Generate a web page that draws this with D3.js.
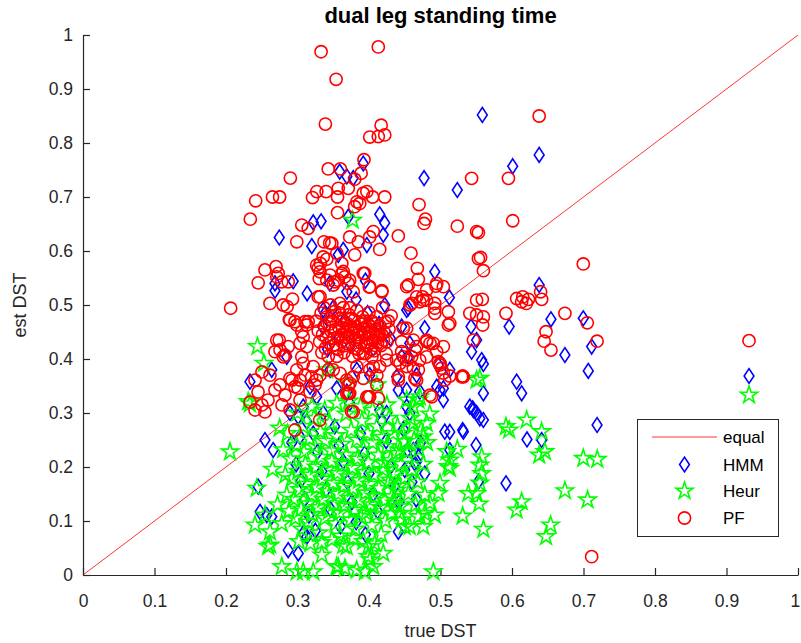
<!DOCTYPE html>
<html><head><meta charset="utf-8">
<script src="https://cdn.jsdelivr.net/npm/d3@7"></script>
<style>body{margin:0;background:#fff}svg{display:block}text{font-family:Arial,"Liberation Sans",sans-serif}</style>
</head><body><svg id="c" width="801" height="643"></svg>
<script>
const title = "dual leg standing time";
const xLabel = "true DST", yLabel = "est DST";
const xTicks = [0,0.1,0.2,0.3,0.4,0.5,0.6,0.7,0.8,0.9,1];
const yTicks = [0,0.1,0.2,0.3,0.4,0.5,0.6,0.7,0.8,0.9,1];
const legendNames = ["equal","HMM","Heur","PF"];
const equalLine = [[0,0],[1,1]];

const hmm = [
[0.392,0.762],[0.359,0.747],[0.369,0.738],[0.378,0.735],[0.477,0.735],[0.322,0.653],[0.333,0.655],[0.415,0.668],[0.422,0.652],[0.42,0.63],
[0.2745,0.625],[0.320,0.609],[0.364,0.602],[0.294,0.544],[0.2685,0.5265],[0.3135,0.5215],[0.3385,0.4845],[0.285,0.404],[0.264,0.380],[0.2335,0.358],
[0.397,0.611],[0.357,0.593],[0.492,0.5615],[0.5124,0.514],[0.455,0.494],[0.478,0.457],[0.457,0.429],[0.4457,0.404],[0.455,0.404],[0.5435,0.4135],
[0.5505,0.435],[0.497,0.389],[0.513,0.380],[0.4666,0.370],[0.441,0.3425],[0.4993,0.3425],[0.371,0.6635],
[0.5585,0.852],[0.638,0.778],[0.601,0.757],[0.5235,0.713],[0.638,0.537],
[0.5427,0.46],[0.596,0.46],[0.6545,0.4735],[0.6997,0.4755],[0.7114,0.423],[0.5576,0.398],[0.560,0.3907],[0.674,0.4074],[0.7067,0.378],
[0.6065,0.358],[0.6135,0.3365],[0.560,0.3365],[0.545,0.3087],[0.555,0.290],[0.531,0.2685],[0.5497,0.2407],[0.621,0.251],[0.6415,0.25],
[0.719,0.2778],[0.5916,0.1698],[0.553,0.1728],[0.513,0.265],[0.513,0.2315],[0.9315,0.3685],
[0.2545,0.25],[0.245,0.1635],[0.257,0.111],[0.264,0.108],[0.287,0.046],[0.301,0.040],[0.313,0.071],
[0.546,0.3055],[0.532,0.2654],[0.506,0.2654],[0.450,0.1944],[0.4666,0.21],[0.441,0.080],[0.504,0.3457],[0.4527,0.3117],[0.457,0.30],[0.462,0.2315],[0.469,0.219],
[0.266,0.2315],[0.2476,0.117],[0.308,0.077],[0.5505,0.30],[0.560,0.287],[0.464,0.207],
[0.2685,0.540],[0.369,0.5245],[0.336,0.4907],[0.4527,0.4907],[0.4457,0.46],[0.3455,0.380],[0.383,0.380],[0.401,0.370],[0.4387,0.367],
[0.4527,0.3425],[0.471,0.3395],[0.4947,0.3487],[0.504,0.324],[0.541,0.3117],[0.3175,0.3487],[0.3268,0.330],[0.3548,0.3457],[0.369,0.3395],
[0.373,0.318],[0.308,0.3117],[0.301,0.293],[0.415,0.3055],[0.4247,0.30],[0.336,0.30],[0.2895,0.30],[0.313,0.284],[0.3035,0.256],
[0.292,0.245],[0.298,0.205],[0.305,0.175],[0.310,0.140],[0.316,0.110],[0.322,0.262],[0.328,0.228],[0.334,0.192],[0.340,0.158],[0.346,0.122],
[0.352,0.275],[0.358,0.240],[0.364,0.210],[0.370,0.172],[0.376,0.135],[0.382,0.098],[0.388,0.262],[0.394,0.225],[0.400,0.188],[0.406,0.150],
[0.412,0.118],[0.418,0.285],[0.424,0.248],[0.430,0.200],[0.436,0.165],[0.442,0.135],[0.448,0.270],[0.454,0.232],[0.460,0.172],[0.466,0.140],
[0.472,0.245],[0.478,0.188],[0.325,0.082],[0.360,0.090],[0.395,0.075],
[0.335,0.460],[0.342,0.418],[0.350,0.495],[0.358,0.440],[0.366,0.472],[0.374,0.425],[0.382,0.510],[0.390,0.448],[0.398,0.485],[0.406,0.420],
[0.414,0.465],[0.422,0.500],[0.430,0.438],[0.345,0.540],[0.395,0.545]
];

const heur = [
[0.377,0.657],[0.244,0.423],[0.253,0.392],[0.2335,0.317],[0.2056,0.228],[0.231,0.321],[0.265,0.1957],[0.243,0.1605],[0.2406,0.0926],[0.259,0.0525],
[0.278,0.0154],[0.299,0.006],[0.308,0.006],[0.322,0.006],[0.334,0.037],[0.411,0.352],[0.5505,0.361],
[0.555,0.364],[0.5916,0.2747],[0.596,0.2685],[0.6205,0.287],[0.6415,0.2654],[0.638,0.222],[0.646,0.2284],[0.6997,0.216],[0.7193,0.214],
[0.5235,0.2327],[0.513,0.213],[0.513,0.1975],[0.5576,0.219],[0.555,0.2037],[0.5576,0.188],[0.555,0.170],[0.5505,0.151],[0.539,0.151],[0.554,0.1315],
[0.531,0.109],[0.560,0.0846],[0.674,0.156],[0.7057,0.139],[0.6065,0.120],[0.6135,0.1357],[0.654,0.0926],[0.6476,0.071],[0.9315,0.3333],
[0.5086,0.2284],[0.511,0.2006],[0.4993,0.1698],[0.497,0.151],[0.4853,0.133],[0.492,0.111],[0.478,0.114],[0.469,0.108],[0.476,0.0895],
[0.4434,0.1265],[0.4457,0.102],[0.457,0.0895],[0.3688,0.0525],[0.399,0.0525],[0.420,0.040],[0.4014,0.028],[0.3548,0.0154],[0.3664,0.0124],
[0.3828,0.009],[0.3944,0.006],[0.406,0.0154],[0.490,0.006],[0.4527,0.324],[0.462,0.3117],[0.471,0.330],[0.4806,0.281],[0.476,0.256],[0.462,0.281],
[0.4434,0.2315],[0.450,0.247],[0.42,0.207],[0.429,0.176],[0.4387,0.157],[0.436,0.133],[0.4317,0.114],[0.4434,0.114],[0.450,0.0895],
[0.357,0.015],[0.2615,0.0556],[0.399,0.034],[0.2545,0.111],[0.2615,0.080],[0.341,0.38],[0.369,0.355],[0.469,0.324],
[0.286,0.262],[0.290,0.215],[0.292,0.178],[0.295,0.140],[0.297,0.105],[0.299,0.240],[0.301,0.192],[0.303,0.158],[0.305,0.122],[0.306,0.085],
[0.308,0.275],[0.309,0.228],[0.311,0.205],[0.312,0.168],[0.314,0.132],[0.315,0.098],[0.317,0.252],[0.318,0.185],[0.320,0.148],[0.321,0.112],
[0.323,0.290],[0.324,0.238],[0.326,0.200],[0.327,0.162],[0.329,0.125],[0.330,0.078],[0.332,0.265],[0.333,0.218],[0.335,0.178],[0.336,0.140],
[0.338,0.105],[0.339,0.248],[0.341,0.195],[0.342,0.155],[0.344,0.118],[0.345,0.282],[0.347,0.230],[0.348,0.210],[0.350,0.170],[0.351,0.132],
[0.353,0.095],[0.354,0.258],[0.356,0.188],[0.357,0.150],[0.359,0.115],[0.360,0.072],[0.362,0.242],[0.363,0.205],[0.365,0.165],[0.366,0.128],
[0.368,0.298],[0.369,0.222],[0.371,0.182],[0.372,0.142],[0.374,0.102],[0.375,0.268],[0.377,0.198],[0.378,0.160],[0.380,0.120],[0.381,0.085],
[0.383,0.250],[0.384,0.215],[0.386,0.175],[0.387,0.138],[0.389,0.108],[0.390,0.285],[0.392,0.232],[0.393,0.190],[0.395,0.152],[0.396,0.115],
[0.398,0.262],[0.399,0.208],[0.401,0.168],[0.402,0.130],[0.404,0.092],[0.405,0.245],[0.407,0.185],[0.408,0.145],[0.410,0.112],[0.411,0.275],
[0.413,0.222],[0.414,0.160],[0.416,0.125],[0.417,0.075],[0.419,0.255],[0.420,0.195],[0.422,0.138],[0.423,0.100],[0.425,0.238],[0.427,0.170],
[0.428,0.290],[0.430,0.212],[0.432,0.145],[0.434,0.262],[0.436,0.188],[0.438,0.225],[0.440,0.275],[0.442,0.165],[0.445,0.205],[0.447,0.262],
[0.450,0.180],[0.453,0.228],[0.455,0.150],[0.458,0.290],[0.460,0.195],[0.463,0.250],[0.465,0.130],[0.468,0.172],[0.470,0.232],[0.473,0.268],
[0.476,0.205],[0.478,0.148],[0.481,0.245],[0.485,0.298],[0.302,0.062],[0.318,0.058],[0.334,0.060],[0.348,0.065],[0.364,0.055],[0.378,0.068],
[0.392,0.062],[0.408,0.058],[0.280,0.232],[0.283,0.185],[0.285,0.148],[0.288,0.118],[0.275,0.272],[0.272,0.130],[0.278,0.095],[0.300,0.300],
[0.320,0.312],[0.338,0.305],[0.355,0.318],[0.372,0.322],[0.388,0.312],[0.405,0.305],[0.425,0.315]
];

const pf = [
[0.333,0.969],[0.413,0.978],[0.354,0.918],[0.339,0.835],[0.417,0.833],[0.401,0.811],[0.413,0.812],[0.422,0.815],[0.393,0.769],[0.343,0.752],
[0.360,0.752],[0.389,0.744],[0.290,0.735],[0.380,0.733],[0.2415,0.693],[0.265,0.70],[0.275,0.70],[0.321,0.699],[0.327,0.710],[0.340,0.710],
[0.356,0.70],[0.357,0.716],[0.371,0.716],[0.383,0.691],[0.392,0.707],[0.397,0.710],[0.405,0.70],[0.422,0.70],[0.38,0.682],[0.387,0.688],
[0.356,0.671],[0.470,0.686],[0.234,0.659],[0.479,0.659],
[0.306,0.648],[0.315,0.642],[0.299,0.617],[0.337,0.617],[0.345,0.615],[0.336,0.589],[0.341,0.585],[0.332,0.577],[0.329,0.568],[0.355,0.596],
[0.362,0.577],[0.364,0.562],[0.2545,0.565],[0.270,0.571],[0.271,0.552],[0.278,0.543],[0.287,0.543],[0.245,0.541],[0.3305,0.549],[0.341,0.546],
[0.350,0.537],[0.357,0.546],[0.366,0.552],[0.329,0.515],[0.2615,0.503],[0.280,0.50],[0.2855,0.497],[0.293,0.511],[0.2065,0.494],[0.2885,0.473],
[0.299,0.463],[0.3105,0.469],[0.315,0.469],[0.306,0.4505],[0.2745,0.435],[0.2685,0.4135],[0.2825,0.407],[0.308,0.441],[0.313,0.423],
[0.477,0.651],[0.5235,0.646],[0.5505,0.636],[0.373,0.626],[0.385,0.617],[0.401,0.626],[0.406,0.636],[0.415,0.603],[0.441,0.628],[0.348,0.614],
[0.380,0.593],[0.4587,0.596],[0.4676,0.568],[0.553,0.586],[0.392,0.5585],[0.371,0.540],[0.3525,0.543],[0.4527,0.534],[0.469,0.5475],[0.4937,0.535],
[0.504,0.534],[0.4005,0.533],[0.418,0.5265],[0.475,0.515],[0.4806,0.509],[0.471,0.506],[0.4597,0.503],[0.492,0.503],[0.511,0.4875],[0.492,0.4845],
[0.511,0.463],[0.5505,0.509],[0.541,0.4845],[0.5505,0.4815],[0.546,0.435],[0.4527,0.457],[0.4457,0.432],[0.4457,0.4135],[0.4643,0.4165],[0.4597,0.404],
[0.4527,0.398],[0.4434,0.392],[0.4806,0.435],[0.4853,0.429],[0.504,0.423],[0.471,0.398],[0.462,0.383],[0.4993,0.392],[0.5015,0.383],[0.532,0.367],
[0.441,0.367],[0.406,0.386],[0.404,0.404],[0.392,0.4105],[0.4247,0.398],[0.4853,0.333],[0.371,0.352],[0.371,0.3365],[0.397,0.330],[0.411,0.352],
[0.638,0.850],[0.5435,0.7345],[0.595,0.7345],[0.553,0.634],[0.601,0.656],[0.556,0.588],[0.560,0.5635],[0.6997,0.576],[0.6065,0.512],[0.615,0.515],
[0.623,0.5105],[0.640,0.5245],[0.6415,0.5105],[0.5585,0.5105],[0.560,0.478],[0.559,0.463],[0.5916,0.4845],[0.6135,0.506],[0.620,0.503],[0.674,0.4845],
[0.7053,0.467],[0.6476,0.4505],[0.645,0.433],[0.6545,0.4165],[0.719,0.433],[0.531,0.3685],[0.513,0.3685],[0.7114,0.034],[0.9315,0.434],
[0.331,0.287],[0.2965,0.2685],[0.399,0.330],[0.413,0.327],[0.3757,0.3025],[0.3688,0.3365],[0.3734,0.355],[0.441,0.361],[0.4666,0.361],[0.506,0.361],
[0.273,0.5585],[0.3268,0.574],[0.3315,0.5615],[0.3455,0.5555],[0.362,0.5585],[0.373,0.546],[0.394,0.5585],[0.401,0.534],[0.418,0.5245],[0.378,0.5245],
[0.3594,0.503],[0.3315,0.5155],[0.455,0.537],[0.4666,0.515],[0.476,0.509],[0.4806,0.528],[0.4947,0.540],[0.492,0.494],[0.513,0.466],[0.4573,0.50],
[0.448,0.457],[0.462,0.435],[0.4666,0.423],[0.4806,0.432],[0.490,0.429],[0.4947,0.4135],[0.497,0.395],[0.4806,0.404],[0.448,0.404],[0.4387,0.398],
[0.4527,0.386],[0.469,0.380],[0.4643,0.3643],[0.504,0.374],[0.271,0.435],[0.2755,0.4167],[0.280,0.404],[0.287,0.423],[0.3035,0.429],[0.306,0.404],
[0.2965,0.469],[0.2895,0.472],[0.313,0.463],[0.308,0.392],[0.322,0.386],[0.299,0.380],[0.3035,0.361],[0.3198,0.367],[0.3315,0.370],[0.3268,0.361],
[0.2895,0.3643],[0.2965,0.3487],[0.3688,0.361],[0.378,0.367],[0.392,0.3643],[0.401,0.380],[0.411,0.370],[0.415,0.386],[0.383,0.386],[0.350,0.380],
[0.3594,0.3735],[0.343,0.380],[0.373,0.3365],[0.401,0.330],[0.378,0.3025],[0.4993,0.389],[0.4877,0.330],[0.5296,0.367],
[0.2406,0.361],[0.2448,0.339],[0.2503,0.315],[0.2587,0.324],[0.2685,0.3426],[0.2755,0.352],[0.2825,0.3333],[0.2923,0.361],[0.3007,0.3463],[0.3035,0.324],
[0.3105,0.370],[0.3175,0.339],[0.3245,0.352],[0.2615,0.370],[0.2783,0.315],[0.2503,0.376],[0.2895,0.3056],[0.2336,0.320],[0.2406,0.3056],[0.2545,0.302],
[0.335,0.445],[0.338,0.462],[0.341,0.478],[0.344,0.430],[0.347,0.452],[0.349,0.470],[0.352,0.488],[0.354,0.420],[0.356,0.440],[0.358,0.458],
[0.360,0.475],[0.362,0.432],[0.364,0.495],[0.365,0.412],[0.367,0.450],[0.369,0.466],[0.371,0.428],[0.372,0.482],[0.374,0.442],[0.376,0.458],
[0.377,0.405],[0.379,0.472],[0.381,0.436],[0.383,0.490],[0.384,0.418],[0.386,0.452],[0.388,0.465],[0.389,0.430],[0.391,0.478],[0.393,0.444],
[0.395,0.410],[0.396,0.460],[0.398,0.425],[0.400,0.486],[0.402,0.448],[0.404,0.470],[0.405,0.434],[0.407,0.415],[0.409,0.455],[0.411,0.478],
[0.413,0.440],[0.415,0.462],[0.417,0.425],[0.419,0.495],[0.421,0.450],[0.423,0.468],[0.425,0.432],[0.428,0.455],[0.431,0.480],[0.334,0.412],
[0.337,0.495],[0.343,0.405],[0.346,0.500],[0.351,0.438],[0.357,0.418],[0.363,0.458],[0.368,0.440],[0.373,0.495],[0.378,0.448],[0.382,0.460],
[0.387,0.440],[0.392,0.455],[0.397,0.438],[0.401,0.462],[0.406,0.446],[0.412,0.430],[0.418,0.445],[0.326,0.470],[0.329,0.452],[0.331,0.432],[0.333,0.485],
[0.340,0.440],[0.345,0.465],[0.350,0.425],[0.353,0.455],[0.359,0.485],[0.361,0.445],[0.366,0.425],[0.370,0.455],[0.375,0.475],[0.380,0.420],
[0.385,0.445],[0.390,0.465],[0.394,0.425],[0.399,0.450],[0.403,0.418],[0.408,0.465],[0.414,0.450],[0.420,0.435],[0.424,0.410],[0.427,0.470],
[0.339,0.420],[0.348,0.480],[0.355,0.405],[0.363,0.470],[0.371,0.440],[0.379,0.455],[0.386,0.410],[0.394,0.470],[0.402,0.430],[0.410,0.442]
];

const W = 801, H = 643;
const m = {left:83, right:798, top:35, bottom:575};
const svg = d3.select("#c");
const x = d3.scaleLinear().domain([0,1]).range([m.left, m.right]);
const y = d3.scaleLinear().domain([0,1]).range([m.bottom, m.top]);
const axisColor = "#262626";
const FONT = "Arial, 'Liberation Sans', sans-serif";

// axes
const gx = svg.append("g").attr("transform", `translate(0,${m.bottom})`)
  .call(d3.axisBottom(x).tickValues(xTicks).tickFormat(d3.format("")).tickSizeInner(-7).tickSizeOuter(0).tickPadding(20));
const gy = svg.append("g").attr("transform", `translate(${m.left},0)`)
  .call(d3.axisLeft(y).tickValues(yTicks).tickFormat(d3.format("")).tickSizeInner(-7).tickSizeOuter(0).tickPadding(10));
[gx, gy].forEach(g => {
  g.select(".domain").attr("stroke", axisColor).attr("stroke-width", 1.2);
  g.selectAll(".tick line").attr("stroke", axisColor).attr("stroke-width", 1.2);
  g.selectAll(".tick text").attr("fill", axisColor).attr("font-size", 17.5).attr("font-family", FONT);
});
gx.selectAll(".tick text").filter(d => d === 1).attr("text-anchor", "end").attr("dx", "0.1em");

// equality line
svg.append("path").datum(equalLine)
  .attr("d", d3.line().x(d => x(d[0])).y(d => y(d[1])))
  .attr("stroke", "#ff0000").attr("stroke-width", 0.8).attr("fill", "none");

// marker shapes
function diamondPath(cx, cy){ const a=7.4, b=4.9; return `M${cx},${cy-a}L${cx+b},${cy}L${cx},${cy+a}L${cx-b},${cy}Z`; }
function starPath(cx, cy){
  const R=9, r=R*0.382; let p="";
  for (let i=0;i<10;i++){ const ang=-Math.PI/2 + i*Math.PI/5; const rr = i%2===0?R:r;
    p += (i===0?"M":"L") + (cx+rr*Math.cos(ang)).toFixed(2) + "," + (cy+rr*Math.sin(ang)).toFixed(2); }
  return p+"Z";
}

svg.append("g").selectAll("path").data(hmm).join("path")
  .attr("d", d => diamondPath(x(d[0]), y(d[1])))
  .attr("fill","none").attr("stroke","#0000ff").attr("stroke-width",1.6);
svg.append("g").selectAll("path").data(heur).join("path")
  .attr("d", d => starPath(x(d[0]), y(d[1])))
  .attr("fill","none").attr("stroke","#00ff00").attr("stroke-width",1.6);
svg.append("g").selectAll("circle").data(pf).join("circle")
  .attr("cx", d => x(d[0])).attr("cy", d => y(d[1])).attr("r", 6.1)
  .attr("fill","none").attr("stroke","#ff0000").attr("stroke-width",1.6);

// title & labels
svg.append("text").attr("x", (m.left+m.right)/2).attr("y", 23).attr("text-anchor","middle")
  .attr("font-size", 22).attr("font-weight","bold").attr("fill","#000").text(title);
svg.append("text").attr("x", (m.left+m.right)/2).attr("y", 637).attr("text-anchor","middle")
  .attr("font-size", 18).attr("fill", axisColor).text(xLabel);
svg.append("text").attr("transform", `translate(26,${(m.top+m.bottom)/2}) rotate(-90)`).attr("text-anchor","middle")
  .attr("font-size", 18).attr("fill", axisColor).text(yLabel);

// legend
const lg = svg.append("g");
lg.append("rect").attr("x", 637.5).attr("y", 419.5).attr("width", 141).attr("height", 117)
  .attr("fill","#fff").attr("stroke", axisColor).attr("stroke-width", 1);
const rowsY = [437, 464.5, 491, 518];
lg.append("line").attr("x1", 652).attr("x2", 717).attr("y1", rowsY[0]).attr("y2", rowsY[0]).attr("stroke","#ff0000").attr("stroke-width",0.8);
lg.append("path").attr("d", diamondPath(684.5, rowsY[1])).attr("fill","none").attr("stroke","#0000ff").attr("stroke-width",1.6);
lg.append("path").attr("d", starPath(684.5, rowsY[2])).attr("fill","none").attr("stroke","#00ff00").attr("stroke-width",1.6);
lg.append("circle").attr("cx", 684.5).attr("cy", rowsY[3]).attr("r", 6.1).attr("fill","none").attr("stroke","#ff0000").attr("stroke-width",1.6);
legendNames.forEach((n,i) => {
  lg.append("text").attr("x", 723).attr("y", rowsY[i]).attr("dy","0.36em").attr("font-size", 17).attr("font-family", FONT).attr("fill","#000").text(n);
});
</script></body></html>
